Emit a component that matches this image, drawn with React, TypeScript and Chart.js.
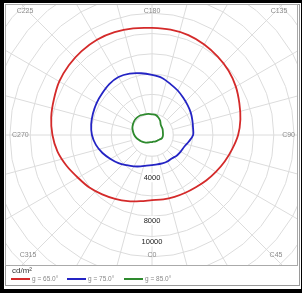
import React, { useEffect, useRef } from "react";
import { Chart, registerables } from "chart.js";

Chart.register(...registerables);

// C-plane angles (degrees) at which the luminance is read
const cAngles = [
  0, 10, 20, 30, 40, 50, 60, 70, 80, 90, 100, 110, 120, 130, 140, 150, 160, 170,
  180, 190, 200, 210, 220, 230, 240, 250, 260, 270, 280, 290, 300, 310, 320, 330, 340, 350,
];

// luminance (cd/m²) per C-plane
const g65 = [
  6100, 6120, 6160, 6240, 6380, 6620, 6900, 7240, 7620, 8060, 8400, 8700, 9060, 9360, 9570, 9780, 9950, 10010,
  10020, 10140, 10240, 10300, 10250, 10160, 10020, 9770, 9580, 9320, 8980, 8490, 8000, 7650, 7250, 6900, 6590, 6290,
];
const g75 = [
  2810, 2790, 2830, 2870, 2870, 3010, 3100, 3210, 3500, 3850, 3900, 4020, 4190, 4350, 4550, 4810, 5070, 5420,
  5620, 5870, 6120, 6270, 6220, 6080, 5990, 5880, 5780, 5620, 5330, 4930, 4480, 4090, 3690, 3390, 3130, 2920,
];
const g85 = [
  660, 640, 660, 680, 710, 750, 830, 960, 1010, 1030, 1040, 1080, 1140, 1180, 1270, 1530, 1750, 1910,
  1940, 2000, 2050, 2130, 2150, 2130, 2050, 1950, 1800, 1660, 1490, 1320, 1180, 1040, 930, 810, 730, 670,
];

const seriesNames = ["g = 65.0°", "g = 75.0°", "g = 85.0°"];
const seriesColors = ["#d42a2a", "#2424c4", "#2e8a2e"];
const seriesValues = [g65, g75, g85];

const directionAngles = [0, 45, 90, 135, 180, 225, 270, 315];
const directionLabels = ["C0", "C45", "C90", "C135", "C180", "C225", "C270", "C315"];

const tickLabelValues = [4000, 8000, 10000];
const unitLabel = "cd/m²";

const radialMax = 19000;
const radialStep = 2000;
const innerBlankValue = 2000;
const spokeStep = 15;

const gridColor = "#dcdcdc";
const FONT = "'Liberation Sans', Arial, Helvetica, sans-serif";

// layout (page pixels)
const CANVAS_SIZE = 406;
const CENTER_X = 152;
const CENTER_Y = 135;
const CANVAS_LEFT = CENTER_X - CANVAS_SIZE / 2;
const CANVAS_TOP = CENTER_Y - CANVAS_SIZE / 2;
const BOX = { left: 5, top: 4, width: 293, height: 262 };
const LABEL_RECT = { left: 12, right: 295, top: 8, bottom: 259 };

// radar goes clockwise from the bottom; C increases counter-clockwise
const radarOrder = cAngles.map((_, i) => (cAngles.length - i) % cAngles.length);

const polarDecor = {
  id: "polarDecor",
  beforeDatasetsDraw(chart: any) {
    const s = chart.scales.r;
    const ctx: CanvasRenderingContext2D = chart.ctx;
    const cx = s.xCenter;
    const cy = s.yCenter;
    const r0 = s.getDistanceFromCenterForValue(innerBlankValue);
    const rMax = s.getDistanceFromCenterForValue(radialMax);
    ctx.save();
    ctx.fillStyle = "#fff";
    ctx.beginPath();
    ctx.arc(cx, cy, r0 - 0.5, 0, Math.PI * 2);
    ctx.fill();
    ctx.strokeStyle = gridColor;
    ctx.lineWidth = 1;
    ctx.beginPath();
    ctx.arc(cx, cy, r0, 0, Math.PI * 2);
    ctx.stroke();
    ctx.beginPath();
    for (let a = 0; a < 360; a += spokeStep) {
      const rad = (a * Math.PI) / 180;
      const dx = Math.sin(rad);
      const dy = Math.cos(rad);
      ctx.moveTo(cx + dx * r0, cy + dy * r0);
      ctx.lineTo(cx + dx * rMax, cy + dy * rMax);
    }
    ctx.stroke();

    ctx.font = `7.5px ${FONT}`;
    ctx.textAlign = "center";
    ctx.textBaseline = "middle";
    tickLabelValues.forEach((v) => {
      const r = s.getDistanceFromCenterForValue(v);
      const text = String(v);
      const w = ctx.measureText(text).width;
      ctx.fillStyle = "#fff";
      ctx.fillRect(cx - w / 2 - 1.5, cy + r - 4.5, w + 3, 9);
      ctx.fillStyle = "#222";
      ctx.fillText(text, cx, cy + r);
    });
    ctx.restore();
  },
  afterDraw(chart: any) {
    const s = chart.scales.r;
    const ctx: CanvasRenderingContext2D = chart.ctx;
    const cx = s.xCenter;
    const cy = s.yCenter;
    const rect = {
      left: LABEL_RECT.left - CANVAS_LEFT,
      right: LABEL_RECT.right - CANVAS_LEFT,
      top: LABEL_RECT.top - CANVAS_TOP,
      bottom: LABEL_RECT.bottom - CANVAS_TOP,
    };
    ctx.save();
    ctx.font = `7px ${FONT}`;
    ctx.fillStyle = "#8a8a8a";
    directionAngles.forEach((a, k) => {
      const rad = (a * Math.PI) / 180;
      let dx = Math.sin(rad);
      let dy = Math.cos(rad);
      if (Math.abs(dx) < 1e-9) dx = 0;
      if (Math.abs(dy) < 1e-9) dy = 0;
      const tx = dx > 0 ? (rect.right - cx) / dx : dx < 0 ? (rect.left - cx) / dx : Infinity;
      const ty = dy > 0 ? (rect.bottom - cy) / dy : dy < 0 ? (rect.top - cy) / dy : Infinity;
      let x: number, y: number;
      if (ty <= tx) {
        y = dy < 0 ? rect.top : rect.bottom;
        x = cx + dx * ty;
        ctx.textAlign = "center";
        ctx.textBaseline = dy < 0 ? "top" : "bottom";
      } else {
        x = dx < 0 ? rect.left : rect.right;
        y = cy + dy * tx;
        ctx.textAlign = dx < 0 ? "left" : "right";
        ctx.textBaseline = "middle";
      }
      ctx.fillText(directionLabels[k], x, y);
    });
    ctx.restore();
  },
};

export default function App() {
  const canvasRef = useRef<HTMLCanvasElement | null>(null);

  useEffect(() => {
    if (!canvasRef.current) return;
    const chart = new Chart(canvasRef.current, {
      type: "radar",
      data: {
        labels: radarOrder.map((j) => "C" + cAngles[j]),
        datasets: seriesValues.map((vals, si) => ({
          label: seriesNames[si],
          data: radarOrder.map((j) => vals[j]),
          borderColor: seriesColors[si],
          backgroundColor: "transparent",
          borderWidth: 1.8,
          pointRadius: 0,
          fill: false,
          tension: 0.3,
        })),
      },
      options: {
        responsive: false,
        maintainAspectRatio: false,
        animation: false,
        events: [],
        layout: { padding: 0 },
        plugins: { legend: { display: false }, tooltip: { enabled: false } },
        scales: {
          r: {
            min: 0,
            max: radialMax,
            startAngle: 180,
            ticks: { display: false, stepSize: radialStep },
            pointLabels: { display: false },
            angleLines: { display: false },
            grid: { color: gridColor, lineWidth: 1 },
          },
        },
      },
      plugins: [polarDecor],
    });
    return () => chart.destroy();
  }, []);

  const legendOffsets = [0, 56, 113];

  return (
    <div
      style={{
        position: "fixed",
        left: 0,
        top: 0,
        width: 302,
        height: 293,
        background: "#000",
        overflow: "hidden",
        fontFamily: FONT,
      }}
    >
      <div style={{ position: "absolute", left: 4, top: 3, width: 297, height: 286, background: "#fff" }} />
      <div
        style={{
          position: "absolute",
          left: 5,
          top: 4,
          width: 295,
          height: 282,
          border: "1px solid #9a9a9a",
          boxSizing: "border-box",
        }}
      />
      <div
        style={{
          position: "absolute",
          left: BOX.left,
          top: BOX.top,
          width: BOX.width,
          height: BOX.height,
          overflow: "hidden",
        }}
      >
        <canvas
          ref={canvasRef}
          width={CANVAS_SIZE}
          height={CANVAS_SIZE}
          style={{
            position: "absolute",
            left: CANVAS_LEFT - BOX.left,
            top: CANVAS_TOP - BOX.top,
            width: CANVAS_SIZE,
            height: CANVAS_SIZE,
          }}
        />
      </div>
      <div
        style={{
          position: "absolute",
          left: BOX.left,
          top: BOX.top,
          width: BOX.width,
          height: BOX.height,
          border: "1px solid #aaaaaa",
          boxSizing: "border-box",
        }}
      />
      <div
        style={{
          position: "absolute",
          left: 12,
          top: 266,
          fontSize: 8,
          lineHeight: "9px",
          color: "#333",
        }}
      >
        {unitLabel}
      </div>
      {seriesNames.map((name, i) => (
        <div
          key={name}
          style={{
            position: "absolute",
            left: 11 + legendOffsets[i],
            top: 275,
            height: 8,
            display: "flex",
            alignItems: "center",
            whiteSpace: "nowrap",
          }}
        >
          <span style={{ display: "inline-block", width: 19, height: 2, background: seriesColors[i] }} />
          <span style={{ marginLeft: 2, fontSize: 6.5, lineHeight: "8px", color: "#888" }}>{name}</span>
        </div>
      ))}
    </div>
  );
}
